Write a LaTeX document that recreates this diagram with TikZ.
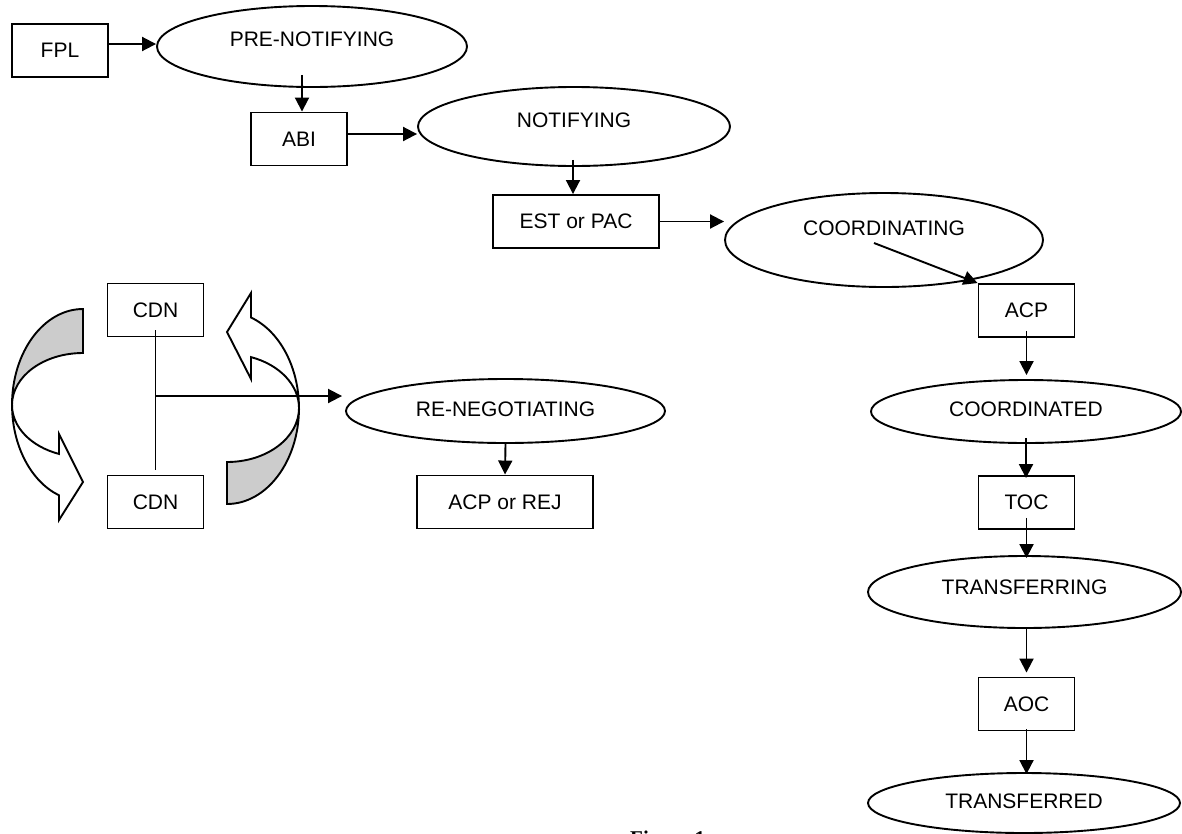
\documentclass[tikz,border=0pt]{standalone}
\usepackage{fontspec}
\setmainfont{Liberation Sans}
\newfontfamily\capfont{Liberation Serif}
\usetikzlibrary{shapes.geometric,arrows.meta}
\definecolor{backgray}{RGB}{204,204,204}
\begin{document}
\begin{tikzpicture}[x=1pt,y=-1pt,
  every node/.style={font=\fontsize{21}{25}\selectfont},
  lw/.style={line width=1.9pt},
  box/.style={draw, lw, rectangle, minimum width=96pt, minimum height=53pt, inner sep=0pt},
  ell/.style={draw, lw, ellipse, inner sep=0pt, text height=15pt},
  conn/.style={lw, -{Triangle[length=14pt,width=14pt]}},
  plainline/.style={lw},
  backside/.style={draw, lw, fill=backgray, line join=miter},
  frontside/.style={draw, lw, fill=white, line join=miter},
]
\useasboundingbox (0,0) rectangle (1182,833);

% curved block arrows
\path[backside] (83,309) arc[start angle=90, end angle=180, x radius=71pt, y radius=96pt]
  arc[start angle=180, end angle=90, x radius=71pt, y radius=52pt] -- cycle;
\path[frontside] (12,405) arc[start angle=180, end angle=250.2, x radius=71pt, y radius=52pt]
  -- (59,434) -- (83,482) -- (59,520) -- (59,495.3)
  arc[start angle=250.2, end angle=180, x radius=71pt, y radius=96pt] -- cycle;
\path[backside] (227,504) arc[start angle=270, end angle=360, x radius=72pt, y radius=96pt]
  arc[start angle=0, end angle=-90, x radius=72pt, y radius=54pt] -- cycle;
\path[frontside] (299,408) arc[start angle=0, end angle=70.5, x radius=72pt, y radius=54pt]
  -- (251,379) -- (227,332) -- (251,293) -- (251,317.5)
  arc[start angle=70.5, end angle=0, x radius=72pt, y radius=96pt] -- cycle;

% nodes
\node[box] (fpl) at (60,50.5) {FPL};
\node[ell, minimum width=310pt, minimum height=81pt, text depth=16pt] (pre) at (312,46.5) {PRE-NOTIFYING};
\node[box] (abi) at (299,139) {ABI};
\node[ell, minimum width=312pt, minimum height=79pt, text depth=13pt] (notif) at (574,126.5) {NOTIFYING};
\node[box, minimum width=166pt] (est) at (576,221.5) {EST or PAC};
\node[ell, minimum width=318pt, minimum height=94pt, text depth=25pt] (coord) at (884,240) {COORDINATING};
\node[box] (acp) at (1026.5,310.5) {ACP};
\node[ell, minimum width=310pt, minimum height=63pt, text depth=5pt] (coordd) at (1026,411.5) {COORDINATED};
\node[box] (toc) at (1026.5,502.5) {TOC};
\node[ell, minimum width=313pt, minimum height=72pt, text depth=10pt] (trfing) at (1024.5,592) {TRANSFERRING};
\node[box] (aoc) at (1026.5,704) {AOC};
\node[ell, minimum width=312pt, minimum height=60pt, text depth=4pt] (trfed) at (1024,803) {TRANSFERRED};
\node[box] (cdnA) at (155.5,310) {CDN};
\node[box] (cdnB) at (155.5,502) {CDN};
\node[ell, minimum width=319pt, minimum height=64pt, text depth=5pt] (reneg) at (505.5,411) {RE-NEGOTIATING};
\node[box, minimum width=176pt] (acprej) at (505,502) {ACP or REJ};
\node[anchor=north west, inner sep=0pt, font=\capfont\bfseries\fontsize{21}{25}\selectfont] (cap) at (630,831) {Figure 1};
\coordinate (junc) at (155.5,396);

% connectors
\draw[conn] ([yshift=6.5pt]fpl.east) -- ([yshift=6.5pt]fpl.east -| pre.west);
\draw[conn, shorten <=-13pt] ([xshift=3pt]abi.north |- pre.south) -- ([xshift=3pt]abi.north);
\draw[conn] ([yshift=5pt]abi.east) -- ([yshift=5pt]abi.east -| notif.west);
\draw[conn, shorten <=-7pt] ([xshift=-3pt]est.north |- notif.south) -- ([xshift=-3pt]est.north);
\draw[conn] (est.east) -- (est.east -| coord.west);
\draw[conn] ([xshift=-10pt,yshift=-3pt]coord.center) -- (acp.north west);
\draw[conn, shorten <=-7pt, shorten >=4pt] (acp.south) -- (acp.south |- coordd.north);
\draw[conn, shorten <=-6pt, shorten >=-3pt] (coordd.south) -- (coordd.south |- toc.north);
\draw[conn, shorten <=-12pt, shorten >=-3pt] (toc.south) -- (toc.south |- trfing.north);
\draw[conn, shorten >=4pt] (trfing.south -| aoc.north) -- (aoc.north);
\draw[conn, shorten <=-2pt, shorten >=-2pt] (aoc.south) -- (aoc.south |- trfed.north);
\draw[plainline, shorten <=-7pt, shorten >=5pt] (cdnA.south) -- (cdnB.north);
\draw[conn, shorten >=3pt] (junc) -- (junc -| reneg.west);
\draw[conn] (reneg.south) -- (acprej.north);
\end{tikzpicture}
\end{document}
